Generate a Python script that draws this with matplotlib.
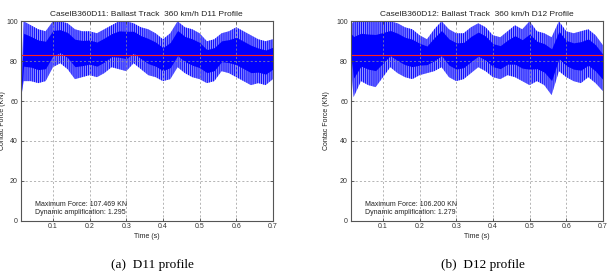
import numpy as np
import matplotlib.pyplot as plt

# envelope of the contact force signal (KN)
t = [0.012, 0.02, 0.04, 0.06, 0.08, 0.10, 0.12, 0.14, 0.16, 0.18, 0.20, 0.22,
     0.24, 0.26, 0.28, 0.30, 0.32, 0.34, 0.36, 0.38, 0.40, 0.42, 0.44, 0.46,
     0.48, 0.50, 0.52, 0.54, 0.56, 0.58, 0.60, 0.62, 0.64, 0.66, 0.68, 0.70]

d11_upper = [62, 100, 98, 96, 95, 100, 100, 99, 96, 95, 95, 94,
             96, 98, 100, 100, 99, 97, 96, 94, 91, 94, 100, 97,
             96, 94, 90, 91, 94, 95, 97, 95, 93, 91, 90, 91]
d11_lower = [60, 70, 70, 69, 70, 77, 79, 76, 71, 72, 73, 72,
             74, 77, 76, 75, 79, 76, 73, 72, 70, 71, 77, 74,
             72, 71, 69, 70, 75, 74, 72, 70, 68, 69, 68, 71]

d12_upper = [98, 100, 100, 100, 100, 100, 100, 99, 97, 96, 93, 91,
             96, 100, 96, 94, 94, 97, 99, 97, 93, 92, 95, 98,
             96, 100, 95, 94, 92, 100, 95, 94, 95, 96, 93, 88]
d12_lower = [78, 62, 70, 68, 67, 72, 77, 74, 72, 71, 73, 74,
             75, 77, 72, 70, 71, 74, 77, 75, 72, 71, 73, 72,
             70, 68, 70, 68, 63, 75, 72, 70, 69, 72, 69, 65]

mean_force = [83.0, 83.0]
max_force = ['107.469', '106.200']
dyn_amp = ['1.295', '1.279']
names = ['D11', 'D12']
captions = ['(a)  D11 profile', '(b)  D12 profile']

plt.rcParams['font.family'] = ['Liberation Sans', 'DejaVu Sans']
plt.rcParams['font.size'] = 5
plt.rcParams['xtick.direction'] = 'in'
plt.rcParams['ytick.direction'] = 'in'
plt.rcParams['hatch.linewidth'] = 0.8
plt.rcParams['hatch.color'] = '#1010ff'

fig = plt.figure(figsize=(6.1, 2.71), dpi=100)
lefts = [0.0339, 0.5749]
label_x = [-0.060, -0.082]
uppers = [d11_upper, d12_upper]
lowers = [d11_lower, d12_lower]

for i in range(2):
    ax = fig.add_axes([lefts[i], 0.1856, 0.4135, 0.7358])
    up = np.array(uppers[i])
    lo = np.array(lowers[i])
    # outer band: streaky, lighter
    ax.fill_between(t, lo, up, facecolor='#9a9aff', edgecolor='#1010ff', hatch='||||||||', lw=0)
    # solid core
    ax.fill_between(t, lo + 0.25 * (up - lo), up - 0.2 * (up - lo), color='#0000ff', lw=0)
    ax.axhline(mean_force[i], color='#ff2020', lw=0.8)

    ax.set_xlim(0.012, 0.70)
    ax.set_ylim(0, 100)
    ax.set_xticks([0.1, 0.2, 0.3, 0.4, 0.5, 0.6, 0.7])
    ax.set_yticks([0, 20, 40, 60, 80, 100])
    ax.tick_params(top=True, right=True, length=2, width=0.5, pad=2, colors='#333333')
    ax.grid(True, ls=(0, (3, 3)), color='#999999', lw=0.5)
    for s in ax.spines.values():
        s.set_color('#555555')
        s.set_linewidth(0.8)

    ax.set_title('CaseIB360' + names[i] + ': Ballast Track  360 km/h ' + names[i] + ' Profile', pad=4, color='#222222')
    ax.set_xlabel('Time (s)', labelpad=2, color='#222222')
    ax.set_ylabel('Contac Force (KN)', color='#222222')
    ax.yaxis.set_label_coords(label_x[i], 0.5)
    ax.text(0.057, 0.08, 'Maximum Force: ' + max_force[i] + ' KN', transform=ax.transAxes, va='center', color='#222222')
    ax.text(0.057, 0.04, 'Dynamic amplification: ' + dyn_amp[i], transform=ax.transAxes, va='center', color='#222222')

    fig.text(lefts[i] + 0.4135 / 2 + 0.01, 0.022, captions[i], ha='center', va='center',
             family='Liberation Serif', fontsize=9.5)

plt.savefig('out.png', dpi=100)
